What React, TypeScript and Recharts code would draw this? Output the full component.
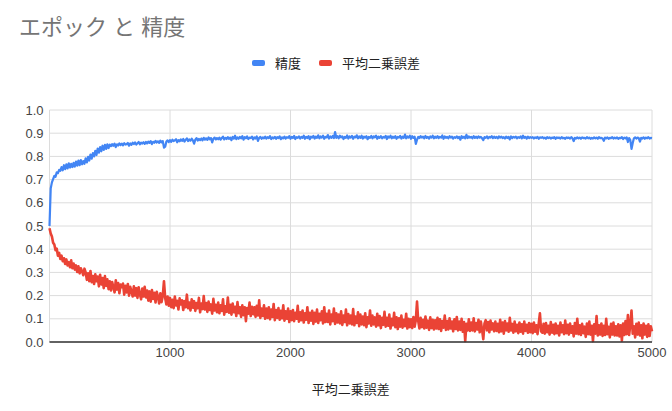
import React from 'react';
import { LineChart, Line, XAxis, YAxis, CartesianGrid, Legend } from 'recharts';

const TITLE = 'エポック と 精度';
const X_LABEL = '平均二乗誤差';
const SERIES_NAMES = ['精度', '平均二乗誤差'];
const COLORS = ['#4285F4', '#EA4335'];
const STEP = 10;
const X_TICKS = [1000, 2000, 3000, 4000, 5000];
const Y_TICKS = [0, 0.1, 0.2, 0.3, 0.4, 0.5, 0.6, 0.7, 0.8, 0.9, 1.0];

// 精度 (one value every 10 epochs)
const accuracy = [
  0.500, 0.662, 0.688, 0.702, 0.716, 0.712, 0.731, 0.728, 0.742, 0.738,
  0.754, 0.740, 0.762, 0.745, 0.766, 0.748, 0.770, 0.752, 0.768, 0.754,
  0.772, 0.756, 0.778, 0.760, 0.782, 0.762, 0.784, 0.766, 0.780, 0.768,
  0.792, 0.774, 0.798, 0.782, 0.808, 0.790, 0.814, 0.800, 0.824, 0.806,
  0.834, 0.816, 0.840, 0.822, 0.846, 0.828, 0.850, 0.832, 0.852, 0.836,
  0.851, 0.844, 0.853, 0.846, 0.855, 0.840, 0.852, 0.847, 0.856, 0.849,
  0.855, 0.848, 0.857, 0.851, 0.853, 0.858, 0.846, 0.856, 0.850, 0.859,
  0.853, 0.860, 0.851, 0.857, 0.862, 0.852, 0.859, 0.855, 0.861, 0.854,
  0.862, 0.856, 0.864, 0.858, 0.866, 0.853, 0.863, 0.859, 0.867, 0.860,
  0.865, 0.858, 0.868, 0.861, 0.866, 0.838, 0.842, 0.864, 0.869, 0.862,
  0.870, 0.863, 0.872, 0.866, 0.869, 0.874, 0.861, 0.870, 0.865, 0.873,
  0.867, 0.875, 0.864, 0.871, 0.878, 0.866, 0.873, 0.868, 0.876, 0.869,
  0.855, 0.872, 0.879, 0.868, 0.875, 0.870, 0.877, 0.869, 0.880, 0.872,
  0.878, 0.871, 0.882, 0.874, 0.879, 0.860, 0.876, 0.881, 0.873, 0.879,
  0.874, 0.881, 0.872, 0.879, 0.885, 0.873, 0.880, 0.875, 0.883, 0.876,
  0.881, 0.870, 0.884, 0.877, 0.889, 0.874, 0.882, 0.876, 0.884, 0.878,
  0.887, 0.872, 0.883, 0.878, 0.886, 0.875, 0.881, 0.879, 0.885, 0.873,
  0.882, 0.877, 0.886, 0.867, 0.880, 0.884, 0.876, 0.882, 0.878, 0.885,
  0.877, 0.883, 0.879, 0.887, 0.875, 0.882, 0.878, 0.884, 0.876, 0.883,
  0.879, 0.886, 0.874, 0.882, 0.878, 0.885, 0.877, 0.883, 0.880, 0.887,
  0.876, 0.884, 0.879, 0.888, 0.875, 0.883, 0.880, 0.886, 0.877, 0.884,
  0.880, 0.889, 0.876, 0.884, 0.879, 0.887, 0.874, 0.885, 0.881, 0.888,
  0.877, 0.885, 0.880, 0.891, 0.878, 0.886, 0.881, 0.889, 0.876, 0.884,
  0.882, 0.892, 0.877, 0.886, 0.880, 0.888, 0.879, 0.905, 0.880, 0.887,
  0.878, 0.889, 0.882, 0.886, 0.875, 0.884, 0.880, 0.890, 0.877, 0.886,
  0.881, 0.888, 0.876, 0.885, 0.882, 0.891, 0.878, 0.886, 0.880, 0.889,
  0.877, 0.885, 0.881, 0.887, 0.874, 0.884, 0.880, 0.888, 0.878, 0.886,
  0.882, 0.889, 0.876, 0.885, 0.880, 0.887, 0.878, 0.884, 0.881, 0.888,
  0.875, 0.886, 0.881, 0.889, 0.878, 0.885, 0.880, 0.887, 0.876, 0.884,
  0.881, 0.888, 0.877, 0.885, 0.880, 0.894, 0.878, 0.886, 0.881, 0.889,
  0.876, 0.887, 0.880, 0.885, 0.854, 0.872, 0.884, 0.879, 0.887, 0.881,
  0.885, 0.878, 0.888, 0.880, 0.884, 0.877, 0.886, 0.881, 0.889, 0.878,
  0.885, 0.880, 0.887, 0.879, 0.884, 0.881, 0.890, 0.876, 0.886, 0.880,
  0.884, 0.878, 0.887, 0.881, 0.885, 0.877, 0.883, 0.880, 0.886, 0.879,
  0.884, 0.872, 0.887, 0.880, 0.885, 0.878, 0.893, 0.879, 0.886, 0.881,
  0.884, 0.878, 0.887, 0.880, 0.885, 0.879, 0.886, 0.881, 0.884, 0.878,
  0.870, 0.883, 0.880, 0.886, 0.878, 0.884, 0.881, 0.887, 0.879, 0.885,
  0.880, 0.884, 0.878, 0.886, 0.881, 0.885, 0.879, 0.883, 0.877, 0.885,
  0.880, 0.884, 0.873, 0.886, 0.879, 0.884, 0.881, 0.885, 0.878, 0.883,
  0.880, 0.886, 0.878, 0.889, 0.880, 0.884, 0.877, 0.885, 0.879, 0.883,
  0.880, 0.883, 0.877, 0.882, 0.879, 0.884, 0.876, 0.882, 0.880, 0.883,
  0.878, 0.881, 0.876, 0.883, 0.879, 0.882, 0.877, 0.881, 0.879, 0.883,
  0.876, 0.882, 0.879, 0.881, 0.877, 0.883, 0.878, 0.880, 0.876, 0.882,
  0.879, 0.881, 0.877, 0.883, 0.878, 0.866, 0.880, 0.877, 0.882, 0.878,
  0.881, 0.876, 0.882, 0.879, 0.880, 0.877, 0.883, 0.878, 0.881, 0.876,
  0.880, 0.877, 0.882, 0.878, 0.881, 0.876, 0.883, 0.879, 0.880, 0.877,
  0.867, 0.881, 0.878, 0.882, 0.876, 0.880, 0.879, 0.883, 0.877, 0.881,
  0.878, 0.882, 0.876, 0.880, 0.879, 0.883, 0.875, 0.881, 0.878, 0.882,
  0.862, 0.879, 0.870, 0.832, 0.858, 0.878, 0.882, 0.877, 0.881, 0.879,
  0.864, 0.880, 0.877, 0.882, 0.876, 0.881, 0.878, 0.883, 0.877, 0.880,
  0.879,
];

// 平均二乗誤差 (one value every 10 epochs)
const mse = [
  0.490, 0.468, 0.455, 0.428, 0.420, 0.396, 0.402, 0.372, 0.384, 0.358,
  0.372, 0.348, 0.361, 0.336, 0.356, 0.330, 0.344, 0.322, 0.352, 0.318,
  0.338, 0.312, 0.330, 0.302, 0.326, 0.296, 0.318, 0.305, 0.288, 0.316,
  0.300, 0.268, 0.296, 0.262, 0.306, 0.258, 0.284, 0.250, 0.292, 0.262,
  0.282, 0.240, 0.290, 0.248, 0.276, 0.232, 0.284, 0.242, 0.270, 0.228,
  0.262, 0.222, 0.258, 0.236, 0.214, 0.266, 0.226, 0.254, 0.210, 0.248,
  0.236, 0.252, 0.204, 0.242, 0.214, 0.250, 0.200, 0.238, 0.218, 0.196,
  0.240, 0.200, 0.232, 0.190, 0.236, 0.206, 0.184, 0.230, 0.196, 0.238,
  0.192, 0.222, 0.178, 0.218, 0.174, 0.224, 0.186, 0.212, 0.170, 0.216,
  0.196, 0.166, 0.210, 0.172, 0.200, 0.262, 0.190, 0.162, 0.196, 0.156,
  0.190, 0.150, 0.182, 0.146, 0.196, 0.158, 0.178, 0.140, 0.188, 0.162,
  0.180, 0.138, 0.176, 0.150, 0.204, 0.146, 0.170, 0.136, 0.184, 0.148,
  0.176, 0.134, 0.168, 0.146, 0.190, 0.128, 0.166, 0.142, 0.198, 0.140,
  0.168, 0.130, 0.174, 0.138, 0.162, 0.122, 0.186, 0.136, 0.160, 0.128,
  0.170, 0.124, 0.158, 0.134, 0.184, 0.118, 0.154, 0.130, 0.192, 0.126,
  0.160, 0.118, 0.166, 0.128, 0.152, 0.112, 0.172, 0.124, 0.150, 0.108,
  0.158, 0.116, 0.150, 0.090, 0.146, 0.122, 0.170, 0.112, 0.152, 0.120,
  0.150, 0.108, 0.156, 0.114, 0.180, 0.104, 0.144, 0.112, 0.158, 0.100,
  0.144, 0.104, 0.150, 0.098, 0.140, 0.108, 0.164, 0.094, 0.138, 0.104,
  0.146, 0.096, 0.134, 0.102, 0.158, 0.092, 0.132, 0.100, 0.144, 0.086,
  0.132, 0.094, 0.138, 0.090, 0.126, 0.100, 0.156, 0.088, 0.128, 0.094,
  0.136, 0.084, 0.124, 0.096, 0.150, 0.082, 0.126, 0.092, 0.134, 0.078,
  0.126, 0.088, 0.140, 0.082, 0.122, 0.094, 0.132, 0.080, 0.150, 0.086,
  0.122, 0.086, 0.136, 0.076, 0.118, 0.090, 0.144, 0.078, 0.124, 0.084,
  0.118, 0.080, 0.132, 0.074, 0.114, 0.086, 0.140, 0.072, 0.120, 0.080,
  0.114, 0.076, 0.142, 0.072, 0.110, 0.082, 0.128, 0.068, 0.118, 0.076,
  0.110, 0.072, 0.124, 0.064, 0.106, 0.080, 0.136, 0.070, 0.114, 0.076,
  0.106, 0.066, 0.122, 0.072, 0.112, 0.060, 0.104, 0.074, 0.130, 0.066,
  0.104, 0.070, 0.118, 0.058, 0.100, 0.072, 0.126, 0.064, 0.106, 0.056,
  0.102, 0.066, 0.114, 0.062, 0.096, 0.068, 0.122, 0.058, 0.100, 0.064,
  0.098, 0.060, 0.108, 0.066, 0.094, 0.174, 0.090, 0.058, 0.104, 0.064,
  0.096, 0.058, 0.110, 0.062, 0.092, 0.052, 0.106, 0.060, 0.096, 0.054,
  0.094, 0.058, 0.104, 0.056, 0.098, 0.048, 0.090, 0.062, 0.114, 0.052,
  0.090, 0.054, 0.102, 0.058, 0.088, 0.046, 0.098, 0.056, 0.108, 0.050,
  0.088, 0.052, 0.100, 0.044, 0.086, 0.004, 0.078, 0.050, 0.098, 0.048,
  0.084, 0.050, 0.102, 0.046, 0.082, 0.054, 0.096, 0.042, 0.088, 0.052,
  0.012, 0.080, 0.094, 0.050, 0.086, 0.042, 0.092, 0.054, 0.080, 0.046,
  0.088, 0.048, 0.078, 0.042, 0.096, 0.046, 0.084, 0.036, 0.090, 0.050,
  0.080, 0.044, 0.104, 0.050, 0.078, 0.040, 0.088, 0.046, 0.074, 0.038,
  0.084, 0.044, 0.076, 0.036, 0.088, 0.048, 0.074, 0.040, 0.082, 0.042,
  0.078, 0.038, 0.084, 0.044, 0.072, 0.034, 0.080, 0.124, 0.046, 0.040,
  0.078, 0.036, 0.082, 0.042, 0.070, 0.032, 0.086, 0.040, 0.074, 0.034,
  0.080, 0.038, 0.070, 0.028, 0.084, 0.042, 0.072, 0.034, 0.092, 0.038,
  0.074, 0.032, 0.080, 0.040, 0.068, 0.024, 0.082, 0.036, 0.100, 0.034,
  0.072, 0.030, 0.078, 0.038, 0.066, 0.022, 0.080, 0.034, 0.088, 0.032,
  0.070, 0.004, 0.076, 0.036, 0.112, 0.028, 0.072, 0.032, 0.080, 0.026,
  0.070, 0.030, 0.100, 0.034, 0.066, 0.020, 0.078, 0.032, 0.084, 0.028,
  0.068, 0.028, 0.076, 0.024, 0.072, 0.006, 0.080, 0.030, 0.090, 0.034,
  0.116, 0.030, 0.074, 0.136, 0.036, 0.068, 0.020, 0.078, 0.032, 0.084,
  0.028, 0.072, 0.016, 0.080, 0.032, 0.070, 0.022, 0.076, 0.026, 0.068,
  0.046,
];

const epochs = accuracy.map((_, i) => i * STEP);
const data = epochs.map((e, i) => ({ epoch: e, acc: accuracy[i], mse: mse[i] }));

const FONT = "Arial, 'Liberation Sans', 'Noto Sans CJK JP', sans-serif";

const LegendContent = () => (
  <div style={{ display: 'flex', justifyContent: 'center', alignItems: 'center', fontFamily: FONT, fontSize: 13, color: '#222' }}>
    {SERIES_NAMES.map((n, i) => (
      <div key={n} style={{ display: 'flex', alignItems: 'center', marginRight: i === 0 ? 18 : 0 }}>
        <span style={{ display: 'inline-block', width: 13, height: 6, borderRadius: 2, background: COLORS[i], marginRight: 10 }} />
        <span>{n}</span>
      </div>
    ))}
  </div>
);

export default function App() {
  return (
    <div style={{ position: 'absolute', left: 0, top: 0, width: 672, height: 411, background: '#fff', fontFamily: FONT }}>
      <div style={{ position: 'absolute', left: 19, top: 14, fontSize: 22, lineHeight: '28px', color: '#757575', fontFamily: FONT, whiteSpace: 'pre' }}>
        {TITLE}
      </div>
      <LineChart width={672} height={411} data={data} margin={{ top: 91, right: 20, bottom: 0, left: 0 }}>
        <CartesianGrid stroke="#dcdcdc" />
        <XAxis
          dataKey="epoch"
          type="number"
          domain={[0, 5000]}
          ticks={X_TICKS}
          tickLine={false}
          tickMargin={0}
          axisLine={{ stroke: '#333', strokeWidth: 1.5 }}
          tick={{ fill: '#444', fontSize: 13, fontFamily: FONT }}
          height={69}
          label={{ value: X_LABEL, position: 'insideBottom', offset: 17, fill: '#222', fontSize: 13, fontFamily: FONT }}
        />
        <YAxis
          type="number"
          domain={[0, 1]}
          ticks={Y_TICKS}
          width={49.5}
          tickLine={false}
          axisLine={false}
          tickMargin={0}
          tickFormatter={(v: number) => v.toFixed(1)}
          tick={{ fill: '#444', fontSize: 13, fontFamily: FONT }}
        />
        <Legend verticalAlign="top" content={<LegendContent />} wrapperStyle={{ top: 53, left: 0, width: 672 }} />
        <Line type="linear" dataKey="acc" name={SERIES_NAMES[0]} stroke={COLORS[0]} strokeWidth={2.2} strokeLinejoin="round" dot={false} isAnimationActive={false} />
        <Line type="linear" dataKey="mse" name={SERIES_NAMES[1]} stroke={COLORS[1]} strokeWidth={2.6} strokeLinejoin="round" dot={false} isAnimationActive={false} />
      </LineChart>
    </div>
  );
}
